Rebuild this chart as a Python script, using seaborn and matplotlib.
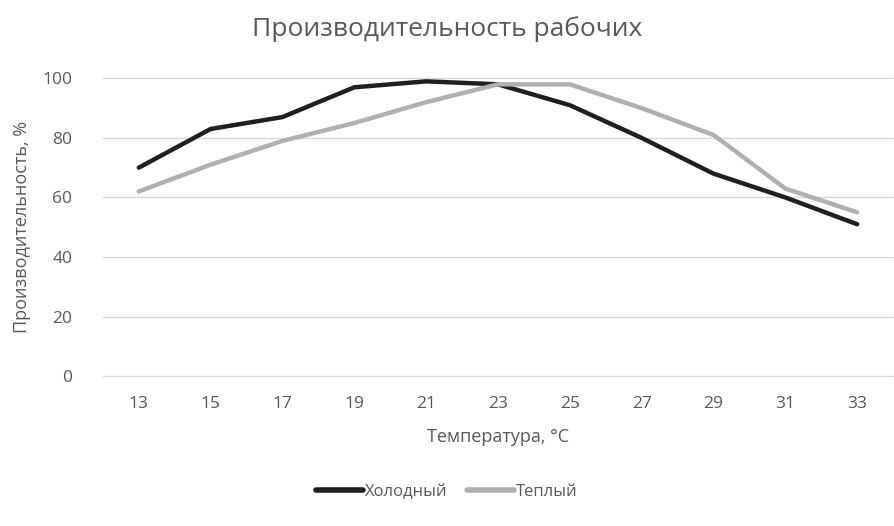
import numpy as np
import pandas as pd
import seaborn as sns
import matplotlib.pyplot as plt
from matplotlib.lines import Line2D

temps = [13, 15, 17, 19, 21, 23, 25, 27, 29, 31, 33]
cold = [70, 83, 87, 97, 99, 98, 91, 80, 68, 60, 51]
warm = [62, 71, 79, 85, 92, 98, 98, 90, 81, 63, 55]
series_names = ["Холодный", "Теплый"]

sns.set_theme(style="white")
plt.rcParams['font.family'] = ['Open Sans', 'DejaVu Sans']

text_color = "#595959"

df = pd.DataFrame({
    "pos": list(range(len(temps))) * 2,
    "value": cold + warm,
    "series": [series_names[0]] * len(temps) + [series_names[1]] * len(temps),
})

fig = plt.figure(figsize=(8.94, 5.26), dpi=100)
ax = fig.add_axes([0.115, 0.285, 0.884, 0.566])

sns.lineplot(data=df, x="pos", y="value", hue="series", hue_order=series_names,
             palette=["#1f1f1f", "#b0b0b0"], linewidth=3.2, ax=ax, legend=False,
             solid_capstyle="round")

ax.set_xlim(-0.5, len(temps) - 0.5)
ax.set_ylim(0, 100)
ax.set_yticks(np.arange(0, 101, 20))
ax.set_xticks(range(len(temps)))
ax.set_xticklabels([str(t) for t in temps])
ax.yaxis.grid(True, color="#d9d9d9", linewidth=1)
for gl in ax.get_ygridlines():
    gl.set_clip_on(False)
ax.set_axisbelow(True)
for s in ax.spines.values():
    s.set_visible(False)
ax.tick_params(axis="both", length=0, labelsize=12.5, colors=text_color, pad=14)
ax.tick_params(axis="y", pad=22)

ax.set_xlabel("Температура, °C", fontsize=13, color=text_color, labelpad=12)
ax.set_ylabel("Производительность, %", fontsize=13, color=text_color, labelpad=8)
fig.text(0.5, 0.945, "Производительность рабочих", ha="center", va="center",
         fontsize=19, color=text_color)

handles = [Line2D([], [], color="#1f1f1f", linewidth=4),
           Line2D([], [], color="#b0b0b0", linewidth=4)]
fig.legend(handles, series_names, loc="center", bbox_to_anchor=(0.5, 0.065), ncol=2,
           frameon=False, fontsize=12, labelcolor=text_color, handlelength=2.8,
           handletextpad=0.1, columnspacing=1.2)

plt.savefig("out.png", dpi=100)
